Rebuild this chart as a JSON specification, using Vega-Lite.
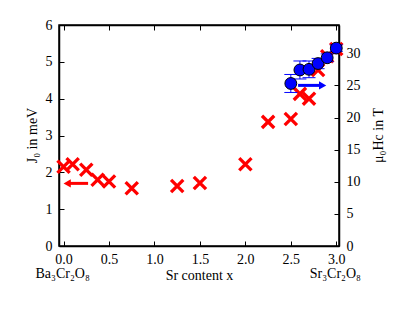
{
  "$schema": "https://vega.github.io/schema/vega-lite/v6.json",
  "autosize": {"type": "none"},
  "padding": {"left": 59, "top": 25, "right": 55, "bottom": 69},
  "width": 280,
  "height": 221,
  "background": "white",
  "config": {
    "font": "Liberation Serif",
    "view": {"stroke": "black", "strokeWidth": 1.5},
    "axis": {"labelFont": "Liberation Serif", "titleFont": "Liberation Serif", "labelFontSize": 14, "titleFontSize": 14, "titleFontWeight": "normal", "labelColor": "black", "titleColor": "black", "domainColor": "black", "domainWidth": 1.5, "tickColor": "black", "grid": false, "tickSize": -5, "labelPadding": 12, "labelOverlap": false, "labelFlush": false, "labelBound": false}
  },
  "datasets": {
    "j0": [
      {"x": 0.0, "J": 2.15}, {"x": 0.1, "J": 2.22}, {"x": 0.25, "J": 2.07}, {"x": 0.375, "J": 1.8},
      {"x": 0.5, "J": 1.75}, {"x": 0.75, "J": 1.57}, {"x": 1.25, "J": 1.63}, {"x": 1.5, "J": 1.71},
      {"x": 2.0, "J": 2.22}, {"x": 2.25, "J": 3.37}, {"x": 2.5, "J": 3.45}, {"x": 2.6, "J": 4.13},
      {"x": 2.7, "J": 4.0}, {"x": 2.8, "J": 4.78}, {"x": 2.9, "J": 5.15}, {"x": 3.0, "J": 5.35}
    ],
    "hc": [
      {"x": 2.5, "H": 25.3, "lo": 23.9, "hi": 26.7},
      {"x": 2.6, "H": 27.4, "lo": 26.0, "hi": 28.8},
      {"x": 2.7, "H": 27.5, "lo": 26.2, "hi": 28.8},
      {"x": 2.8, "H": 28.4, "lo": 27.6, "hi": 29.2},
      {"x": 2.9, "H": 29.3, "lo": 28.7, "hi": 29.9},
      {"x": 3.0, "H": 30.8, "lo": 30.3, "hi": 31.3}
    ],
    "redArrow": [{"x": 0.05, "y": 1.7}, {"x": 0.27, "y": 1.7}],
    "redHead": [{"x": 0.04, "y": 1.7}],
    "blueArrow": [{"x": 2.58, "y": 25}, {"x": 2.83, "y": 25}],
    "blueHead": [{"x": 2.85, "y": 25}],
    "labels": [
      {"x": -0.01, "y": -0.75, "t": "Ba₃Cr₂O₈"},
      {"x": 2.99, "y": -0.75, "t": "Sr₃Cr₂O₈"}
    ]
  },
  "layer": [
    {
      "layer": [
        {
          "data": {"name": "j0"},
          "mark": {"type": "point", "shape": "M-1,-1L1,1M1,-1L-1,1", "filled": false, "stroke": "#ff0000", "strokeWidth": 3.3, "size": 150, "opacity": 1},
          "encoding": {
            "x": {"field": "x", "type": "quantitative", "scale": {"domain": [-0.05, 3.03], "nice": false, "zero": false},
              "axis": {"orient": "bottom", "values": [0, 0.5, 1, 1.5, 2, 2.5, 3], "format": ".1f", "title": "Sr content x", "titlePadding": 2, "labelPadding": 11, "labelOverlap": false}},
            "y": {"field": "J", "type": "quantitative", "scale": {"domain": [0, 6], "nice": false},
              "axis": {"orient": "left", "values": [0, 1, 2, 3, 4, 5, 6], "tickCount": 7, "labelOverlap": false, "title": "J₀ in meV", "titleX": -27, "titleY": 110, "titleAngle": -90, "titleAlign": "center", "titleBaseline": "middle"}}
          }
        },
        {
          "data": {"name": "redArrow"},
          "mark": {"type": "line", "color": "#ff0000", "strokeWidth": 3},
          "encoding": {"x": {"field": "x", "type": "quantitative"}, "y": {"field": "y", "type": "quantitative"}}
        },
        {
          "data": {"name": "redHead"},
          "mark": {"type": "point", "shape": "triangle-left", "filled": true, "color": "#ff0000", "size": 70, "opacity": 1},
          "encoding": {"x": {"field": "x", "type": "quantitative"}, "y": {"field": "y", "type": "quantitative"}}
        },
        {
          "data": {"name": "labels"},
          "mark": {"type": "text", "fontSize": 14, "font": "Liberation Serif", "color": "black", "align": "center", "baseline": "middle"},
          "encoding": {"x": {"field": "x", "type": "quantitative"}, "y": {"field": "y", "type": "quantitative"}, "text": {"field": "t"}}
        }
      ]
    },
    {
      "layer": [
        {
          "data": {"name": "hc"},
          "mark": {"type": "errorbar", "ticks": {"size": 13, "color": "#0000ff", "opacity": 1}, "rule": {"color": "#0000ff", "opacity": 1}, "color": "#0000ff"},
          "encoding": {
            "x": {"field": "x", "type": "quantitative",
              "axis": {"orient": "top", "values": [0, 0.5, 1, 1.5, 2, 2.5, 3], "labels": false, "title": null}},
            "y": {"field": "lo", "type": "quantitative", "scale": {"domain": [0, 34.4], "nice": false},
              "title": "μ₀Hc in T",
              "axis": {"orient": "right", "values": [0, 5, 10, 15, 20, 25, 30], "tickCount": 7, "labelOverlap": false, "title": "μ₀Hc in T", "titleX": 39, "titleY": 110, "titleAngle": -90, "titleAlign": "center", "titleBaseline": "middle"}},
            "y2": {"field": "hi"}
          }
        },
        {
          "data": {"name": "hc"},
          "mark": {"type": "point", "filled": true, "color": "#0000ff", "stroke": "black", "strokeWidth": 1, "size": 140, "opacity": 1},
          "encoding": {
            "x": {"field": "x", "type": "quantitative"},
            "y": {"field": "H", "type": "quantitative", "title": "μ₀Hc in T"}
          }
        },
        {
          "data": {"name": "blueArrow"},
          "mark": {"type": "line", "color": "#0000ff", "strokeWidth": 3},
          "encoding": {"x": {"field": "x", "type": "quantitative"}, "y": {"field": "y", "type": "quantitative", "title": "μ₀Hc in T"}}
        },
        {
          "data": {"name": "blueHead"},
          "mark": {"type": "point", "shape": "triangle-right", "filled": true, "color": "#0000ff", "size": 70, "opacity": 1},
          "encoding": {"x": {"field": "x", "type": "quantitative"}, "y": {"field": "y", "type": "quantitative", "title": "μ₀Hc in T"}}
        }
      ]
    }
  ],
  "resolve": {"scale": {"y": "independent"}, "axis": {"x": "independent"}}
}
